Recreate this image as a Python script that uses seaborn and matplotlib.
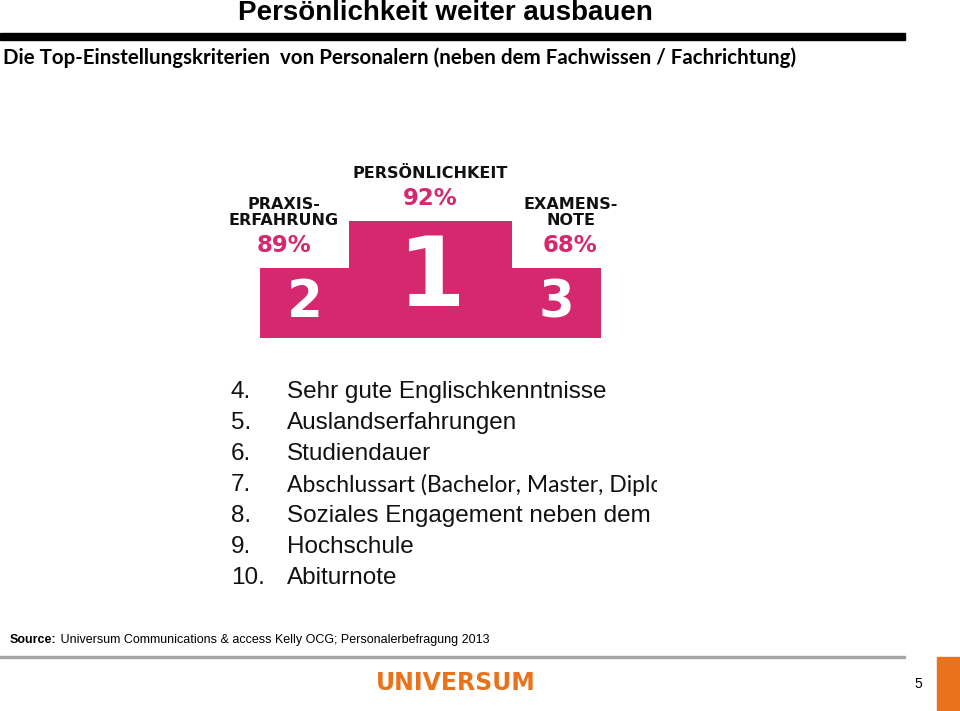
import numpy as np
import pandas as pd
import matplotlib
matplotlib.use("Agg")
import matplotlib.pyplot as plt
import seaborn as sns
from matplotlib.patches import Rectangle

# Podium data (left to right as drawn)
criteria = ["PRAXIS-\nERFAHRUNG", "PERSÖNLICHKEIT", "EXAMENS-\nNOTE"]
shares = ["89%", "92%", "68%"]
ranks = ["2", "1", "3"]
podium_steps = [3, 5, 3]

# Places 4-10
more_ranks = ["4.", "5.", "6.", "7.", "8.", "9.", "10."]
more_criteria = [
    "Sehr gute Englischkenntnisse",
    "Auslandserfahrungen",
    "Studiendauer",
    "Abschlussart (Bachelor, Master, Diplom)",
    "Soziales Engagement neben dem Studium",
    "Hochschule",
    "Abiturnote",
]

title = "Persönlichkeit weiter ausbauen"
subtitle = "Die Top-Einstellungskriterien  von Personalern (neben dem Fachwissen / Fachrichtung)"
source_bold = "Source:"
source_text = " Universum Communications & access Kelly OCG; Personalerbefragung 2013"

PINK = "#D6286E"
ORANGE = "#E8731C"
W, H = 960, 711

sns.set_theme(style="white")
plt.rcParams["font.family"] = ["Liberation Sans", "DejaVu Sans"]
plt.rcParams["text.color"] = "black"

fig = plt.figure(figsize=(W / 100, H / 100), dpi=100)


def fx(px):
    return px / W


def fy(py):
    return 1 - py / H


# header
fig.text(fx(445), fy(13), title, ha="center", va="center", fontsize=20,
         fontweight="bold")
fig.patches.append(Rectangle((0, fy(40)), fx(905), fy(33) - fy(40),
                             transform=fig.transFigure, color="black"))
fig.text(fx(3), fy(58), subtitle, ha="left", va="center", fontsize=14.8,
         fontweight="bold", family=["Lato", "DejaVu Sans"])

# podium
ax = fig.add_axes([fx(260), fy(338), fx(341), fy(150) - fy(338)])
df = pd.DataFrame({"criterion": criteria, "step": podium_steps})
sns.barplot(data=df, x="criterion", y="step", color=PINK, saturation=1,
            width=1.0, ax=ax)
podium_widths = [89, 163, 89]
label_shift = [-21, 0, 14]
lefts = np.concatenate([[0], np.cumsum(podium_widths)[:-1]])
for patch, left, w in zip(ax.patches, lefts, podium_widths):
    patch.set_x(left)
    patch.set_width(w)
    patch.set_linewidth(0)
ax.set_xlim(0, sum(podium_widths))
ax.set_ylim(0, 188 / (70 / 3))
ax.axis("off")

for patch, crit, pct, rk, dx in zip(ax.patches, criteria, shares, ranks, label_shift):
    cx = patch.get_x() + patch.get_width() / 2
    top = patch.get_height()
    ax.annotate(pct, (cx + dx, top), xytext=(0, 16.5), textcoords="offset points",
                ha="center", va="center", color=PINK, fontsize=16.5,
                fontweight="bold", family="DejaVu Sans")
    ax.annotate(crit, (cx + dx, top), xytext=(0, 29), textcoords="offset points",
                ha="center", va="bottom", color="#111111", fontsize=11.5,
                fontweight="bold", family="DejaVu Sans", linespacing=1.1)
    big = 70 if rk == "1" else 37
    ax.text(cx, top / 2, rk, ha="center", va="center", color="white",
            fontsize=big, fontweight="bold", family="DejaVu Sans")

# list of places 4-10, clipped like the original text box
lax = fig.add_axes([fx(220), fy(600), fx(437), fy(370) - fy(600)])
lax.set_xlim(220, 657)
lax.set_ylim(600, 370)
lax.axis("off")
line_y = 392 + 31 * np.arange(len(more_ranks))
for y, num, txt in zip(line_y, more_ranks, more_criteria):
    lax.text(231, y, num, ha="left", va="center", fontsize=17.5, color="#111111",
             clip_on=True)
    if txt.startswith("Abschluss"):
        fam, size = ["Lato", "DejaVu Sans"], 16.5
    else:
        fam, size = ["Liberation Sans"], 17.5
    lax.text(287, y, txt, ha="left", va="center", fontsize=size,
             color="#111111", clip_on=True, family=fam)

# footer
t = fig.text(fx(10), fy(640), source_bold, ha="left", va="center", fontsize=9,
             fontweight="bold")
fig.canvas.draw()
bb = t.get_window_extent()
fig.text(bb.x1 / W, fy(640), source_text, ha="left", va="center", fontsize=9)
fig.patches.append(Rectangle((0, fy(658)), fx(905), fy(656) - fy(658),
                             transform=fig.transFigure, color="#A6A6A6"))
fig.text(fx(456), fy(683), "UNIVERSUM", ha="center", va="center", fontsize=17,
         fontweight="bold", color=ORANGE, family="DejaVu Sans")
fig.text(fx(918), fy(684), "5", ha="center", va="center", fontsize=10)
fig.patches.append(Rectangle((fx(937), 0), fx(23), fy(657),
                             transform=fig.transFigure, color=ORANGE))

fig.savefig("out.png", dpi=100)
